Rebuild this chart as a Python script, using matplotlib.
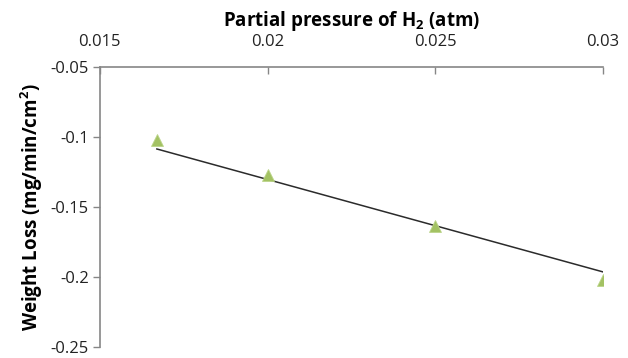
import matplotlib

matplotlib.use("Agg")
import matplotlib.pyplot as plt

plt.rcParams["font.family"] = ["Open Sans", "DejaVu Sans"]
plt.rcParams["mathtext.fontset"] = "custom"
plt.rcParams["mathtext.rm"] = "Open Sans"
plt.rcParams["mathtext.bf"] = "Open Sans:bold"

# measured values
pressure_atm = [0.0167, 0.02, 0.025, 0.03]
weight_loss = [-0.102, -0.127, -0.1636, -0.202]

# trendline endpoints as drawn
trend_x = [0.0167, 0.03]
trend_y = [-0.1086, -0.1964]

x_ticks = [0.015, 0.02, 0.025, 0.03]
x_tick_labels = ["0.015", "0.02", "0.025", "0.03"]
y_ticks = [-0.25, -0.2, -0.15, -0.1, -0.05]
y_tick_labels = ["-0.25", "-0.2", "-0.15", "-0.1", "-0.05"]

fig = plt.figure(figsize=(6.28, 3.58), dpi=100)
ax = fig.add_axes([0.159, 0.031, 0.801, 0.782])

ax.plot(trend_x, trend_y, color="#2b2b2b", lw=1.1, zorder=2)
ax.plot(pressure_atm, weight_loss, linestyle="none", marker="^", ms=8,
        color="#a3c263", markeredgecolor="#bcd58a", markeredgewidth=0.6, zorder=3)

ax.set_xlim(0.015, 0.03)
ax.set_ylim(-0.25, -0.05)
ax.set_xticks(x_ticks, x_tick_labels)
ax.set_yticks(y_ticks, y_tick_labels)

# horizontal axis sits at the top, as in the spreadsheet chart
ax.xaxis.set_ticks_position("top")
ax.xaxis.set_label_position("top")
ax.tick_params(axis="x", direction="in", length=5, width=1, color="#868686",
               labelsize=12, pad=12, labelcolor="#222222")
ax.tick_params(axis="y", direction="out", length=5, width=1, color="#868686",
               labelsize=12, pad=3, labelcolor="#222222")

for side in ("bottom", "right"):
    ax.spines[side].set_visible(False)
for side in ("top", "left"):
    ax.spines[side].set_color("#868686")
    ax.spines[side].set_linewidth(1.2)

ax.set_xlabel(r"Partial pressure of H$_\mathbf{2}$ (atm)", fontsize=13.5,
              fontweight="bold", labelpad=6)
ax.set_ylabel(r"Weight Loss (mg/min/cm$^\mathbf{2}$)", fontsize=13.5,
              fontweight="bold", labelpad=4)

fig.savefig("out.png", dpi=100)
